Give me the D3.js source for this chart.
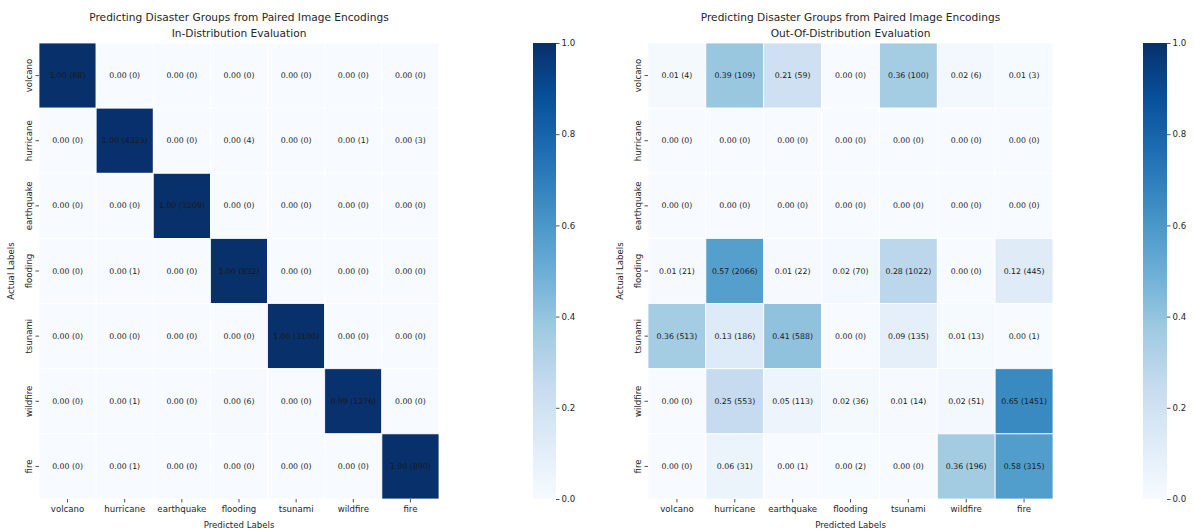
<!DOCTYPE html>
<html>
<head>
<meta charset="utf-8">
<script src="https://cdn.jsdelivr.net/npm/d3@7"></script>
<style>
  html, body { margin: 0; padding: 0; background: #fff; }
  svg { display: block; font-family: "DejaVu Sans", sans-serif; }
</style>
</head>
<body>
<svg id="chart" width="1194" height="531"></svg>
<script>
// Disaster classes, used for both actual (rows) and predicted (columns)
const classes = ["volcano", "hurricane", "earthquake", "flooding", "tsunami", "wildfire", "fire"];

// Confusion counts, rows = actual, columns = predicted
const inDistCounts = [
  [68, 0, 0, 0, 0, 0, 0],
  [0, 4323, 0, 4, 0, 1, 3],
  [0, 0, 3209, 0, 0, 0, 0],
  [0, 1, 0, 832, 0, 0, 0],
  [0, 0, 0, 0, 3100, 0, 0],
  [0, 1, 0, 6, 0, 1276, 0],
  [0, 1, 0, 0, 0, 0, 890]
];
const outDistCounts = [
  [4, 109, 59, 0, 100, 6, 3],
  [0, 0, 0, 0, 0, 0, 0],
  [0, 0, 0, 0, 0, 0, 0],
  [21, 2066, 22, 70, 1022, 0, 445],
  [513, 186, 588, 0, 135, 13, 1],
  [0, 553, 113, 36, 14, 51, 1451],
  [0, 31, 1, 2, 0, 196, 315]
];

const colorbarTicks = [0.0, 0.2, 0.4, 0.6, 0.8, 1.0];
const titleLine1 = "Predicting Disaster Groups from Paired Image Encodings";
const inDistSubtitle = "In-Distribution Evaluation";
const outDistSubtitle = "Out-Of-Distribution Evaluation";

// Sequential blue ramp (9 ColorBrewer stops, linearly interpolated)
const blueStops = ["#f7fbff", "#deebf7", "#c6dbef", "#9ecae1", "#6baed6",
                   "#4292c6", "#2171b5", "#08519c", "#08306b"];
const color = d3.scaleLinear()
  .domain(blueStops.map((_, i) => i / (blueStops.length - 1)))
  .range(blueStops)
  .interpolate(d3.interpolateRgb)
  .clamp(true);

const svg = d3.select("#chart");
const textColor = "#262626";
const labelSize = "8.6px";

// gradient for the colorbars
const defs = svg.append("defs");
const grad = defs.append("linearGradient")
  .attr("id", "bluesGrad").attr("x1", 0).attr("y1", 1).attr("x2", 0).attr("y2", 0);
d3.range(0, 1.0001, 0.02).forEach(t => {
  grad.append("stop").attr("offset", t).attr("stop-color", color(t));
});

function drawPanel(cfg) {
  const counts = cfg.counts;
  // row-normalised rates; rows with no samples stay at zero
  const rows = counts.map(r => {
    const total = d3.sum(r);
    return r.map(c => ({ count: c, rate: total > 0 ? c / total : 0 }));
  });

  const x = d3.scaleBand().domain(classes).range([cfg.x0, cfg.x1]);
  const y = d3.scaleBand().domain(classes).range([cfg.y0, cfg.y1]);

  const g = svg.append("g");

  const cells = [];
  rows.forEach((r, i) => r.forEach((d, j) => cells.push({ actual: classes[i], pred: classes[j], ...d })));

  g.selectAll("rect.cell").data(cells).enter().append("rect")
    .attr("class", "cell")
    .attr("x", d => x(d.pred))
    .attr("y", d => y(d.actual))
    .attr("width", x.bandwidth())
    .attr("height", y.bandwidth())
    .attr("fill", d => color(d.rate))
    .attr("stroke", "#ffffff")
    .attr("stroke-width", 0.8);

  g.selectAll("text.annot").data(cells).enter().append("text")
    .attr("class", "annot")
    .attr("x", d => x(d.pred) + x.bandwidth() / 2)
    .attr("y", d => y(d.actual) + y.bandwidth() / 2)
    .attr("text-anchor", "middle")
    .attr("dominant-baseline", "central")
    .attr("font-size", "7.8px")
    .attr("fill", "#1a1a1a")
    .text(d => `${d.rate.toFixed(2)} (${d.count})`);

  // x axis
  const xAxis = d3.axisBottom(x).tickSize(3.5).tickPadding(3);
  const gx = g.append("g").attr("transform", `translate(0,${cfg.y1})`).call(xAxis);
  gx.select(".domain").remove();
  gx.selectAll("line").attr("stroke", textColor).attr("stroke-width", 0.8);
  gx.selectAll("text").attr("font-size", labelSize).attr("fill", textColor)
    .attr("font-family", "DejaVu Sans, sans-serif");

  // y axis with vertical labels
  const yAxis = d3.axisLeft(y).tickSize(3.5).tickPadding(0);
  const gy = g.append("g").attr("transform", `translate(${cfg.x0},0)`).call(yAxis);
  gy.select(".domain").remove();
  gy.selectAll("line").attr("stroke", textColor).attr("stroke-width", 0.8);
  gy.selectAll("text")
    .attr("font-size", labelSize).attr("fill", textColor)
    .attr("font-family", "DejaVu Sans, sans-serif")
    .attr("x", null)
    .attr("text-anchor", "middle")
    .attr("transform", "translate(-10,0) rotate(-90)")
    .attr("dy", "0.32em");

  // axis titles
  g.append("text")
    .attr("x", (cfg.x0 + cfg.x1) / 2).attr("y", cfg.y1 + 29)
    .attr("text-anchor", "middle").attr("font-size", labelSize).attr("fill", textColor)
    .text("Predicted Labels");
  g.append("text")
    .attr("transform", `translate(${cfg.x0 - 25},${(cfg.y0 + cfg.y1) / 2}) rotate(-90)`)
    .attr("text-anchor", "middle").attr("font-size", labelSize).attr("fill", textColor)
    .text("Actual Labels");

  // two-line title
  const cx = (cfg.x0 + cfg.x1) / 2;
  g.append("text").attr("x", cx).attr("y", 21).attr("text-anchor", "middle")
    .attr("font-size", "10.6px").attr("fill", textColor).text(titleLine1);
  g.append("text").attr("x", cx).attr("y", 37).attr("text-anchor", "middle")
    .attr("font-size", "10.6px").attr("fill", textColor).text(cfg.subtitle);

  // colorbar
  const cb = svg.append("g");
  cb.append("rect")
    .attr("x", cfg.cbx0).attr("y", cfg.y0)
    .attr("width", cfg.cbx1 - cfg.cbx0).attr("height", cfg.y1 - cfg.y0)
    .attr("fill", "url(#bluesGrad)");
  const cbScale = d3.scaleLinear().domain([0, 1]).range([cfg.y1, cfg.y0]);
  const cbAxis = d3.axisRight(cbScale).tickValues(colorbarTicks)
    .tickFormat(d3.format(".1f")).tickSize(3.5).tickPadding(2);
  const gcb = cb.append("g").attr("transform", `translate(${cfg.cbx1},0)`).call(cbAxis);
  gcb.select(".domain").remove();
  gcb.selectAll("line").attr("stroke", textColor).attr("stroke-width", 0.8);
  gcb.selectAll("text").attr("font-size", labelSize).attr("fill", textColor)
    .attr("font-family", "DejaVu Sans, sans-serif");
}

drawPanel({ counts: inDistCounts, subtitle: inDistSubtitle,
  x0: 39, x1: 439, y0: 43, y1: 499, cbx0: 533, cbx1: 556 });
drawPanel({ counts: outDistCounts, subtitle: outDistSubtitle,
  x0: 648, x1: 1053, y0: 43, y1: 499, cbx0: 1143, cbx1: 1167 });
</script>
</body>
</html>
